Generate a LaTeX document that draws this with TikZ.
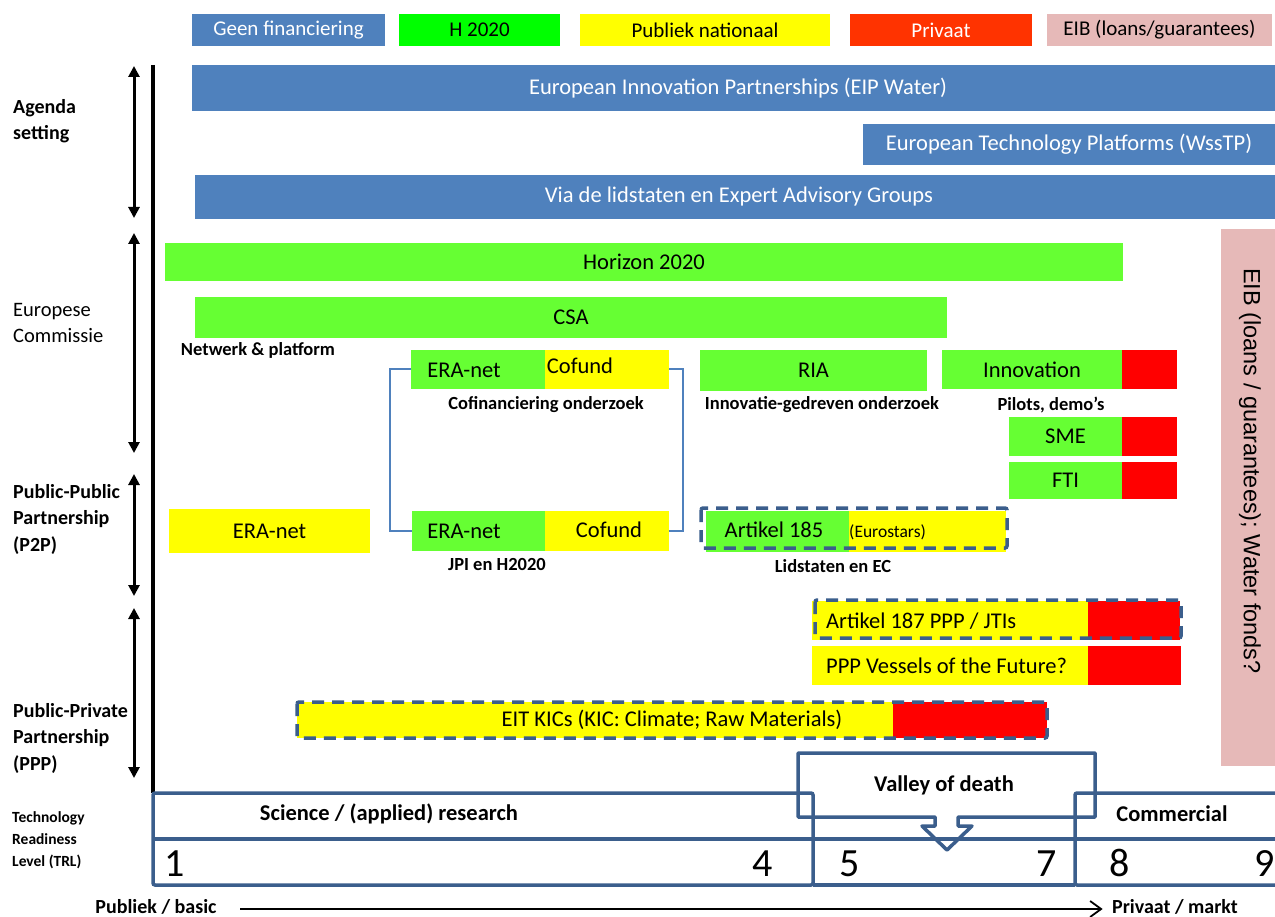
\documentclass[tikz,border=0pt]{standalone}
\usepackage{fontspec}
\setmainfont{Carlito}
\newfontfamily\arialf{Liberation Sans}
\usetikzlibrary{arrows.meta}
\definecolor{eblue}{RGB}{79,129,189}
\definecolor{lgreen}{RGB}{0,255,0}
\definecolor{rgreen}{RGB}{102,255,51}
\definecolor{yel}{RGB}{255,255,0}
\definecolor{lred}{RGB}{255,51,0}
\definecolor{rred}{RGB}{255,0,0}
\definecolor{epink}{RGB}{230,185,184}
\definecolor{dblue}{RGB}{59,94,140}
\newcommand\rbox[6]{\node[bx,fill=#6,minimum width=#4pt,minimum height=#5pt] (#1) at (#2,#3) {};}
\begin{document}
\begin{tikzpicture}[x=1pt,y=-1pt,
  bx/.style={anchor=north west,inner sep=0pt,outer sep=0pt,draw=none},
  lgt/.style={font=\fontsize{21}{24}\selectfont},
  rowt/.style={font=\fontsize{22.5}{27}\selectfont},
  lblt/.style={font=\bfseries\fontsize{18.5}{22}\selectfont},
  sidet/.style={font=\bfseries\fontsize{20}{26.5}\selectfont,anchor=west,align=left,inner sep=0pt},
  sidereg/.style={font=\fontsize{20.5}{26}\selectfont,anchor=west,align=left,inner sep=0pt},
  trlt/.style={font=\bfseries\fontsize{15.5}{22}\selectfont,anchor=west,align=left,inner sep=0pt},
  bigb/.style={font=\bfseries\fontsize{22.5}{26}\selectfont},
  numt/.style={font=\fontsize{40}{44}\selectfont,anchor=base,inner sep=0pt},
  dsh/.style={draw=dblue,line width=3.5pt,dash pattern=on 12pt off 8pt,rounded corners=2pt},
  trl/.style={draw=dblue,line width=3.5pt},
  brk/.style={draw=eblue,line width=2pt},
  larr/.style={line width=3pt,{Triangle[length=11pt,width=11pt]}-{Triangle[length=11pt,width=11pt]}},
  barr/.style={line width=1.8pt,-{Straight Barb[length=11pt,width=16pt,line width=1.8pt]}}
]
\useasboundingbox (0,0) rectangle (1275,917);
\clip (0,0) rectangle (1275,917);
\fill[white] (0,0) rectangle (1275,917);

% legend
\rbox{lg1}{192}{14}{193}{32}{eblue}
\node[lgt,text=white] (lg1t) at (lg1) {Geen financiering};
\rbox{lg2}{399}{14}{161}{32}{lgreen}
\node[lgt] (lg2t) at (lg2) {H 2020};
\rbox{lg3}{580}{14}{250}{32}{yel}
\node[lgt] (lg3t) at (lg3) {Publiek nationaal};
\rbox{lg4}{850}{14}{182}{32}{lred}
\node[lgt,text=white] (lg4t) at (lg4) {Privaat};
\rbox{lg5}{1047}{14}{225}{32}{epink}
\node[lgt] (lg5t) at (lg5) {EIB (loans/guarantees)};

% agenda rows
\rbox{eip}{192}{65}{1083}{46}{eblue}
\node[rowt,text=white] (eipt) at (738,88) {European Innovation Partnerships (EIP Water)};
\rbox{etp}{863}{124}{412}{41}{eblue}
\node[rowt,text=white] (etpt) at (etp) {European Technology Platforms (WssTP)};
\rbox{via}{195}{175}{1080}{44}{eblue}
\node[rowt,text=white] (viat) at (739,197) {Via de lidstaten en Expert Advisory Groups};

% EC rows
\rbox{h20}{165}{243}{958}{38}{rgreen}
\node[rowt] (h20t) at (h20) {Horizon 2020};
\rbox{csa}{195}{297}{752}{41}{rgreen}
\node[rowt] (csat) at (csa) {CSA};
\node[lblt] (netw) at (258,350) {Netwerk \& platform};

\rbox{era1g}{411}{350}{134}{39}{rgreen}
\rbox{era1y}{545}{350}{124}{39}{yel}
\node[rowt] (era1a) at (464,370) {ERA-net};
\node[rowt] (era1b) at (580,366) {Cofund};
\node[lblt] (cofin) at (546,405) {Cofinanciering onderzoek};

\rbox{ria}{700}{350}{227}{41}{rgreen}
\node[rowt] (riat) at (ria) {RIA};
\node[lblt] (innog) at (822,405) {Innovatie-gedreven onderzoek};

\rbox{inng}{942}{350}{180}{39}{rgreen}
\rbox{innr}{1122}{350}{55}{39}{rred}
\node[rowt] (innt) at (inng) {Innovation};
\node[lblt] (pil) at (1051,405) {Pilots, demo’s};

\rbox{smeg}{1009}{417}{113}{39}{rgreen}
\rbox{smer}{1122}{417}{55}{39}{rred}
\node[rowt] (smet) at (smeg) {SME};
\rbox{ftig}{1009}{462}{113}{37}{rgreen}
\rbox{ftir}{1122}{462}{55}{37}{rred}
\node[rowt] (ftit) at (ftig) {FTI};

% P2P rows
\rbox{eran}{169}{509}{201}{44}{yel}
\node[rowt] (erant) at (eran) {ERA-net};
\rbox{era2g}{412}{511}{133}{40}{rgreen}
\rbox{era2y}{545}{511}{124}{40}{yel}
\node[rowt] (era2a) at (464,531) {ERA-net};
\node[rowt] (era2b) at (609,530) {Cofund};
\node[lblt] (jpi) at (497,565) {JPI en H2020};
\draw[brk] (era1g.west) -- ++(-21,0) |- (era2g.west);
\draw[brk] (era1y.east) -- ++(14,0) |- (era2y.east);

\rbox{a185g}{706}{511}{143}{41}{rgreen}
\rbox{a185y}{849}{511}{157}{41}{yel}
\node[rowt] (a185t) at (774,530) {Artikel 185};
\node[font=\fontsize{17.5}{20}\selectfont,anchor=west,inner sep=0pt] (eur) at (849,532) {(Eurostars)};
\draw[dsh] (701,508) rectangle (1007,548);
\node[lblt] (lid) at (833,566) {Lidstaten en EC};

% PPP rows
\rbox{a187y}{812}{601}{276}{39}{yel}
\rbox{a187r}{1088}{601}{92}{39}{rred}
\node[rowt,anchor=west,inner sep=0pt] (a187t) at (826,621) {Artikel 187 PPP / JTIs};
\draw[dsh] (815,600) rectangle (1181,638);
\rbox{vesy}{812}{646}{276}{39}{yel}
\rbox{vesr}{1088}{646}{93}{39}{rred}
\node[rowt,anchor=west,inner sep=0pt] (vest) at (826,666) {PPP Vessels of the Future?};

\rbox{eity}{297}{702}{596}{36}{yel}
\rbox{eitr}{893}{702}{154}{36}{rred}
\node[rowt] (eitt) at (672,720) {EIT KICs (KIC: Climate; Raw Materials)};
\draw[dsh] (297,702) rectangle (1047,738);

% EIB vertical
\rbox{eib}{1221}{229}{54}{537}{epink}
\node[rotate=-90,font=\arialf\fontsize{23.5}{26}\selectfont] (eibt) at (1250,471) {EIB (loans / guarantees); Water fonds?};

% left side labels
\node[sidet] (lagenda) at (13,121) {Agenda\\setting};
\node[sidereg] (lec) at (13,323) {Europese\\Commissie};
\node[sidet] (lp2p) at (13,519) {Public-Public\\Partnership\\(P2P)};
\node[sidet] (lppp) at (13,738) {Public-Private\\Partnership\\(PPP)};
\node[trlt] (ltrl) at (12,840) {Technology\\Readiness\\Level (TRL)};

\coordinate (a1t) at (134,66);  \coordinate (a1b) at (134,218);
\coordinate (a2t) at (134,233); \coordinate (a2b) at (134,453);
\coordinate (a3t) at (134,474); \coordinate (a3b) at (134,596);
\coordinate (a4t) at (134,608); \coordinate (a4b) at (134,778);
\draw[larr] (a1t) -- (a1b);
\draw[larr] (a2t) -- (a2b);
\draw[larr] (a3t) -- (a3b);
\draw[larr] (a4t) -- (a4b);

\coordinate (vtop) at (153,65); \coordinate (vbot) at (153,793);
\draw[line width=4pt] (vtop) -- (vbot);

% TRL
\draw[trl,rounded corners=2pt] (153,793) rectangle (813,885);
\draw[trl,rounded corners=2pt] (1075,793) rectangle (1290,885);
\draw[trl] (813,885) -- (1075,885);
\draw[trl] (153,839) -- (1290,839);
\node[bigb] (sci) at (389,814) {Science / (applied) research};
\node[bigb] (com) at (1172,814) {Commercial};
\node[numt] (n1) at (175,876) {1};
\node[numt] (n4) at (763,876) {4};
\node[numt] (n5) at (850,876) {5};
\node[numt] (n7) at (1047,876) {7};
\node[numt] (n8) at (1120,876) {8};
\node[numt] (n9) at (1265,876) {9};

% valley of death callout
\draw[trl,line join=round] (798,753) -- (1095,753) -- (1095,817) -- (958,817) -- (958,826) -- (972,826) -- (947,850) -- (922,826) -- (935,826) -- (935,817) -- (798,817) -- cycle;
\node[bigb] (vod) at (944,785) {Valley of death};

% bottom axis
\node[font=\bfseries\fontsize{20}{24}\selectfont] (pub) at (156,907) {Publiek / basic};
\node[font=\bfseries\fontsize{20}{24}\selectfont] (priv) at (1175,907) {Privaat / markt};
\draw[barr,shorten <=20pt,shorten >=6pt] ([yshift=-2pt]pub.east) -- ([yshift=-2pt]priv.west);
\end{tikzpicture}
\end{document}
